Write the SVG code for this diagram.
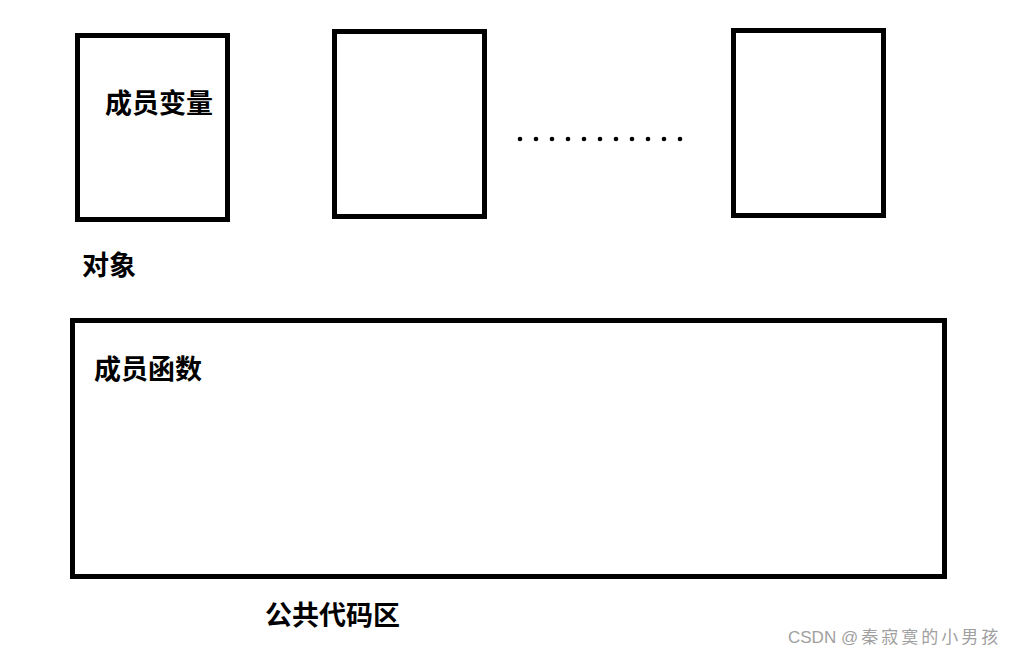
<svg xmlns="http://www.w3.org/2000/svg" width="1015" height="656" viewBox="0 0 1015 656">
<style>
.box{fill:none;stroke:#000;stroke-width:5}
.lbl{font-family:"Noto Sans CJK SC","Noto Sans",sans-serif;font-weight:bold;font-size:27px;fill:#000}
.wm{font-family:"Liberation Sans","Noto Sans CJK SC",sans-serif;font-size:17px;fill:#a0a0a0}
</style>
<rect width="1015" height="656" fill="#fff"/>
<g id="obj1">
<rect class="box" x="77.5" y="35.5" width="150" height="184"/>
<text class="lbl" x="105" y="113">成员变量</text>
</g>
<g id="obj2">
<rect class="box" x="334.5" y="31.5" width="150" height="185"/>
</g>
<g id="dots" fill="#000">
<circle cx="520" cy="139" r="2.3"/><circle cx="536" cy="139" r="2.3"/><circle cx="552" cy="139" r="2.3"/><circle cx="568" cy="139" r="2.3"/><circle cx="584" cy="139" r="2.3"/><circle cx="600" cy="139" r="2.3"/><circle cx="616" cy="139" r="2.3"/><circle cx="632" cy="139" r="2.3"/><circle cx="648" cy="139" r="2.3"/><circle cx="664" cy="139" r="2.3"/><circle cx="680" cy="139" r="2.3"/>
</g>
<g id="obj3">
<rect class="box" x="733.5" y="30.5" width="150" height="185"/>
</g>
<g id="objlabel">
<text class="lbl" x="82" y="275">对象</text>
</g>
<g id="code">
<rect class="box" x="72.5" y="320.5" width="872" height="256"/>
<text class="lbl" x="94" y="379">成员函数</text>
</g>
<g id="codelabel">
<text class="lbl" x="265" y="625">公共代码区</text>
</g>
<g id="connectors"></g>
<text class="wm" x="788" y="643">CSDN <tspan letter-spacing="3">@秦寂寞的小男孩</tspan></text>
</svg>
